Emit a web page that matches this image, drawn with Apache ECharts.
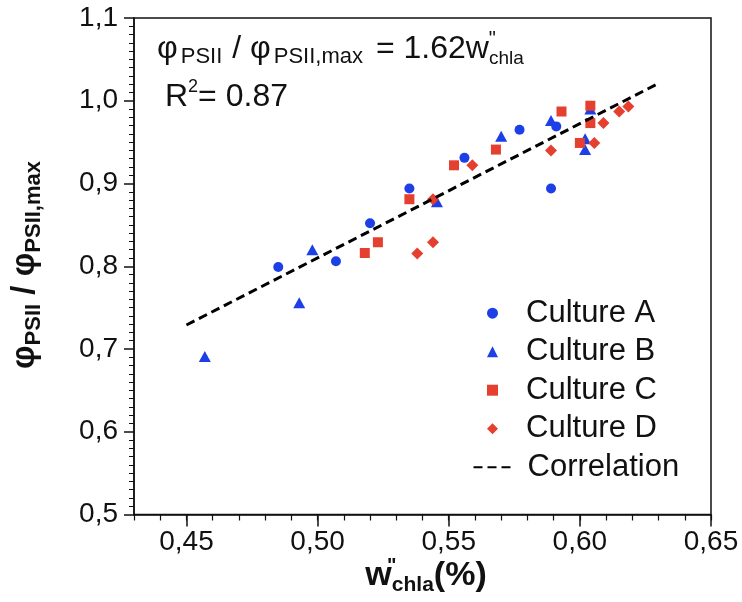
<!DOCTYPE html>
<html><head><meta charset="utf-8">
<script src="https://cdn.jsdelivr.net/npm/echarts@6/dist/echarts.min.js"></script>
<style>html,body{margin:0;padding:0;background:#fff}#c{width:742px;height:602px}</style>
</head><body><div id="c"></div>
<script>
// ---- data ----
const cultureA = [[0.485,0.799],[0.507,0.806],[0.520,0.852],[0.535,0.894],[0.556,0.931],[0.577,0.965],[0.591,0.969],[0.589,0.894]];
const cultureB = [[0.457,0.691],[0.493,0.756],[0.498,0.820],[0.5455,0.878],[0.570,0.957],[0.589,0.976],[0.604,0.990],[0.602,0.954],[0.602,0.941]];
const cultureC = [[0.518,0.816],[0.523,0.829],[0.535,0.881],[0.552,0.922],[0.568,0.941],[0.593,0.987],[0.604,0.994],[0.604,0.973],[0.600,0.949]];
const cultureD = [[0.538,0.8155],[0.544,0.829],[0.544,0.881],[0.559,0.922],[0.589,0.940],[0.6055,0.949],[0.609,0.973],[0.615,0.987],[0.6185,0.993]];
const correlation = [[0.45,0.729],[0.63,1.021]];
const seriesNames = ['Culture A','Culture B','Culture C','Culture D','Correlation'];
const xMajorTicks = [0.45,0.50,0.55,0.60,0.65];
const xRange = [0.43,0.65];
const yRange = [0.5,1.1];
const equationText = '{m|φ}{s|PSII}{m| / φ}{s2|PSII,max}{m| = 1.62w}{q|"}{t|chla}';
const r2Text = '{m|R}{p|2}{m|= 0.87}';
const yTitleText = '{m|φ}{s|PSII}{m| / φ}{s|PSII,max}';
const xTitleText = '{b|w}{q|"}{s|chla}{b|(%)}';

const FF = "'Liberation Sans', Arial, sans-serif";
const BLUE = '#1c3fe6';
const RED = '#e5402f';

const chart = echarts.init(document.getElementById('c'), null, {renderer:'canvas'});
const scatter = (name, data, symbol, size, color) => ({
  name, type:'scatter', data, symbol, symbolSize:size,
  itemStyle:{color, opacity:1}, z:2, xAxisIndex:0, yAxisIndex:0
});
const legendText = {fontSize:31, fontFamily:FF, color:'#111', lineHeight:30};
chart.setOption({
  animation:false,
  backgroundColor:'#fff',
  grid:{left:134, right:31, top:18, bottom:87.5, show:true, borderColor:'#111', borderWidth:1.5, backgroundColor:'transparent'},
  xAxis:[{
    type:'value', min:xRange[0], max:xRange[1], position:'bottom',
    axisLine:{show:true, onZero:false, lineStyle:{color:'#111', width:1.5}},
    axisTick:{show:true, inside:false, length:12, customValues:xMajorTicks, lineStyle:{color:'#111', width:1.5}},
    axisLabel:{show:true, customValues:xMajorTicks, margin:14, fontSize:28, fontFamily:FF, color:'#111',
      formatter:v=>v.toFixed(2).replace('.',',')},
    splitLine:{show:false}
  },{
    type:'value', min:xRange[0], max:xRange[1], interval:0.01, position:'bottom',
    axisLine:{show:false, onZero:false},
    axisTick:{show:true, inside:false, length:6, lineStyle:{color:'#111', width:1.2}},
    axisLabel:{show:false}, splitLine:{show:false}
  }],
  yAxis:{
    type:'value', min:yRange[0], max:yRange[1], interval:0.1,
    axisLine:{show:true, onZero:false, lineStyle:{color:'#111', width:1.5}},
    axisTick:{show:true, inside:false, length:10, lineStyle:{color:'#111', width:1.5}},
    minorTick:{show:true, splitNumber:10, length:5, lineStyle:{color:'#111', width:1}},
    axisLabel:{margin:16, fontSize:28, fontFamily:FF, color:'#111', formatter:v=>v.toFixed(1).replace('.',',')},
    splitLine:{show:false}
  },
  legend:[{
    data:seriesNames.slice(0,4), orient:'vertical', left:487, top:297.7, padding:0,
    itemWidth:11, itemHeight:11, itemGap:7.5, symbolKeepAspect:true,
    textStyle:Object.assign({padding:[0,0,0,23]}, legendText)
  },{
    data:[{name:seriesNames[4], itemStyle:{opacity:0}}], orient:'vertical', left:472.5, top:451.7, padding:0,
    itemWidth:40, itemHeight:10,
    textStyle:Object.assign({padding:[0,0,0,9]}, legendText)
  }],
  series:[
    scatter(seriesNames[0], cultureA, 'circle', 10, BLUE),
    scatter(seriesNames[1], cultureB, 'triangle', [12,11], BLUE),
    scatter(seriesNames[2], cultureC, 'rect', 10, RED),
    scatter(seriesNames[3], cultureD, 'diamond', 12, RED),
    {name:seriesNames[4], type:'line', data:correlation, symbol:'none', z:5,
      lineStyle:{color:'#000', width:3, type:[9,5]}, itemStyle:{color:'#000'}}
  ],
  graphic:[
    {type:'text', x:157, y:29.8, z:10, style:{text:equationText, align:'left', verticalAlign:'top',
      rich:{
        m:{fontSize:32, fontFamily:FF, lineHeight:38, fill:'#111'},
        s:{fontSize:22, fontFamily:FF, lineHeight:27, verticalAlign:'bottom', fill:'#111', padding:[0,1,0,3]},
        s2:{fontSize:22, fontFamily:FF, lineHeight:27, verticalAlign:'bottom', fill:'#111', padding:[0,4,0,3]},
        q:{fontSize:20, fontFamily:FF, lineHeight:22, width:0.1, verticalAlign:'top', fill:'#111'},
        t:{fontSize:19, fontFamily:FF, lineHeight:13, verticalAlign:'bottom', fill:'#111'}
      }}},
    {type:'text', x:165, y:77.8, z:10, style:{text:r2Text, align:'left', verticalAlign:'top',
      rich:{
        m:{fontSize:32, fontFamily:FF, lineHeight:38, fill:'#111'},
        p:{fontSize:18, fontFamily:FF, lineHeight:21, verticalAlign:'top', fill:'#111'}
      }}},
    {type:'text', x:25, y:265, rotation:Math.PI/2, z:10, style:{text:yTitleText, align:'center', verticalAlign:'middle',
      rich:{
        m:{fontSize:33, fontWeight:'bold', fontFamily:FF, lineHeight:40, fill:'#111'},
        s:{fontSize:22, fontWeight:'bold', fontFamily:FF, lineHeight:18, verticalAlign:'bottom', fill:'#111'}
      }}},
    {type:'text', x:426, y:576, z:10, style:{text:xTitleText, align:'center', verticalAlign:'middle',
      rich:{
        b:{fontSize:34, fontWeight:'bold', fontFamily:FF, lineHeight:40, fill:'#111'},
        q:{fontSize:20, fontWeight:'bold', fontFamily:FF, lineHeight:24, width:0.1, verticalAlign:'top', fill:'#111'},
        s:{fontSize:21, fontWeight:'bold', fontFamily:FF, lineHeight:11, verticalAlign:'bottom', fill:'#111'}
      }}}
  ]
});
</script></body></html>
